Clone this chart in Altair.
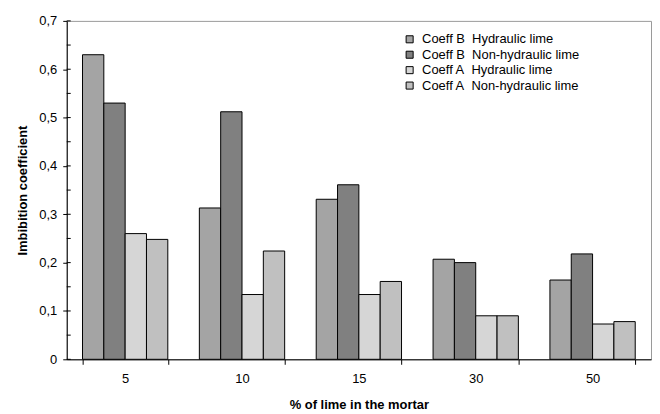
import altair as alt
import pandas as pd

categories = ["5", "10", "15", "30", "50"]
series_names = [
    "Coeff B\u00a0 Hydraulic lime",
    "Coeff B\u00a0 Non-hydraulic lime",
    "Coeff A\u00a0 Hydraulic lime",
    "Coeff A\u00a0 Non-hydraulic lime",
]
coeff_b_hydraulic = [0.630, 0.313, 0.331, 0.207, 0.164]
coeff_b_nonhydraulic = [0.530, 0.512, 0.361, 0.200, 0.218]
coeff_a_hydraulic = [0.260, 0.134, 0.134, 0.090, 0.073]
coeff_a_nonhydraulic = [0.248, 0.224, 0.161, 0.090, 0.078]
series_colors = ["#a4a4a4", "#808080", "#d6d6d6", "#c0c0c0"]

major_ticks = [0, 0.1, 0.2, 0.3, 0.4, 0.5, 0.6, 0.7]
minor_ticks = [0, 0.05, 0.1, 0.15, 0.2, 0.25, 0.3, 0.35, 0.4, 0.45, 0.5,
               0.55, 0.6, 0.65, 0.7]

rows = []
for name, vals in zip(series_names, [coeff_b_hydraulic, coeff_b_nonhydraulic,
                                     coeff_a_hydraulic, coeff_a_nonhydraulic]):
    for c, v in zip(categories, vals):
        rows.append({"cat": c, "series": name, "value": v})
df = pd.DataFrame(rows)
ticks_df = pd.DataFrame({"t": minor_ticks})

FONT = "Liberation Sans"

yscale = alt.Scale(domain=[0, 0.7], nice=False, zero=True)
yaxis = alt.Axis(title="Imbibition coefficient", values=major_ticks,
                 labelExpr="datum.value == 0 ? '0' : replace(format(datum.value, '.1f'), '.', ',')",
                 tickSize=4, tickColor="black", domainColor="black",
                 labelFontSize=13, labelPadding=6, titleFontSize=13,
                 titleFontWeight="bold", titlePadding=9,
                 labelColor="black", titleColor="black", grid=False)

bars = alt.Chart(df).mark_bar(stroke="black", strokeWidth=1).encode(
    x=alt.X("cat:N", sort=categories,
            scale=alt.Scale(paddingInner=0.27, paddingOuter=0.135),
            axis=alt.Axis(title="% of lime in the mortar", labelAngle=0,
                          tickBand="extent", tickSize=5, tickColor="black",
                          domainColor="black", labelFontSize=13,
                          labelPadding=8, titleFontSize=13, titleFontWeight="bold",
                          titlePadding=13, labelColor="black", titleColor="black")),
    xOffset=alt.XOffset("series:N", sort=series_names,
                        scale=alt.Scale(paddingInner=0, paddingOuter=0)),
    y=alt.Y("value:Q", scale=yscale, axis=yaxis),
    fill=alt.Fill("series:N", sort=series_names,
                  scale=alt.Scale(domain=series_names, range=series_colors),
                  legend=alt.Legend(title=None, orient="none", legendX=338, legendY=12,
                                    symbolType="square", symbolSize=50,
                                    symbolStrokeColor="black", symbolStrokeWidth=1,
                                    labelFontSize=13, labelColor="black",
                                    rowPadding=1.5, padding=0, labelOffset=6)),
)

minor = alt.Chart(ticks_df).mark_rule(color="black", strokeWidth=1).encode(
    y=alt.Y("t:Q", scale=yscale, axis=yaxis),
    x=alt.value(0),
    x2=alt.value(4),
)

chart = alt.layer(bars, minor).properties(
    width=587, height=340,
    autosize=alt.AutoSizeParams(type="none"),
    padding={"left": 59, "top": 12, "right": 1, "bottom": 52},
).configure(font=FONT).configure_view(stroke="#999999", strokeWidth=1)

chart.save("out.html", embed_options={"renderer": "svg", "actions": False})
